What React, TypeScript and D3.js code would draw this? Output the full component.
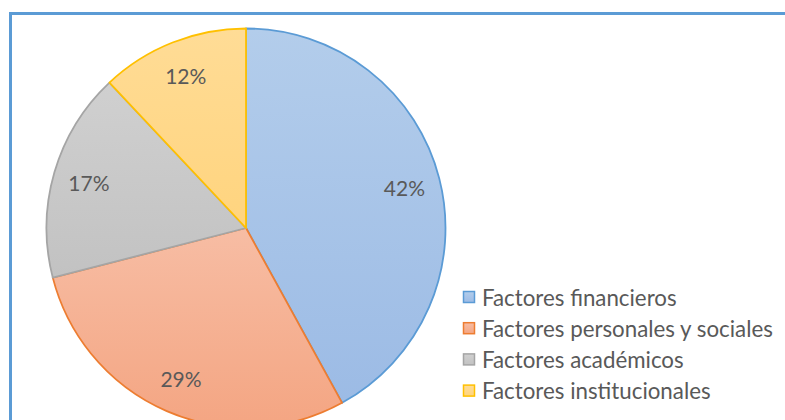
import React from "react";
import * as d3 from "d3";

const categories = [
  "Factores financieros",
  "Factores personales y sociales",
  "Factores académicos",
  "Factores institucionales",
];
const values = [42, 29, 17, 12];
const labels = ["42%", "29%", "17%", "12%"];

const fillTop = ["#B3CDEB", "#F7BDA4", "#D0D0D0", "#FFDC96"];
const fillBottom = ["#9CBBE5", "#F4A582", "#C2C2C2", "#FFD47E"];
const strokes = ["#5B9BD5", "#ED7D31", "#A5A5A5", "#FFC000"];

export default function App() {
  const W = 785;
  const H = 420;
  const cx = 246;
  const cy = 228;
  const R = 199.5;

  const pie = d3.pie<number>().sort(null).value((d) => d);
  const arcs = pie(values);
  const arc = d3.arc<d3.PieArcDatum<number>>().innerRadius(0).outerRadius(R);
  const labelArc = d3
    .arc<d3.PieArcDatum<number>>()
    .innerRadius(R * 0.82)
    .outerRadius(R * 0.82);

  const legendX = 463;
  const legendY0 = 297;
  const legendStep = 31.2;

  return (
    <svg
      width={W}
      height={H}
      style={{ position: "absolute", left: 0, top: 0 }}
      fontFamily="Lato, 'Open Sans', sans-serif"
    >
      <defs>
        {arcs.map((a, i) => (
          <linearGradient key={i} id={`g${i}`} x1="0" y1="0" x2="0" y2="1">
            <stop offset="0" stopColor={fillTop[i]} />
            <stop offset="1" stopColor={fillBottom[i]} />
          </linearGradient>
        ))}
      </defs>
      <rect x={0} y={0} width={W} height={H} fill="#fff" />
      <rect
        x={10.5}
        y={13.5}
        width={W + 20}
        height={H + 20}
        fill="none"
        stroke="#5B9BD5"
        strokeWidth={3}
      />
      <g transform={`translate(${cx},${cy})`}>
        {arcs.map((a, i) => (
          <path
            key={i}
            d={arc(a) || ""}
            fill={`url(#g${i})`}
            stroke={strokes[i]}
            strokeWidth={1.8}
            strokeLinejoin="round"
          />
        ))}
        {arcs.map((a, i) => {
          const [x, y] = labelArc.centroid(a);
          return (
            <text
              key={i}
              x={x}
              y={y}
              textAnchor="middle"
              dominantBaseline="central"
              fontSize={21}
              fill="#595959"
            >
              {labels[i]}
            </text>
          );
        })}
      </g>
      {categories.map((c, i) => (
        <g key={c} transform={`translate(${legendX},${legendY0 + i * legendStep})`}>
          <rect
            x={0.5}
            y={-5.5}
            width={11}
            height={11}
            fill={`url(#g${i})`}
            stroke={strokes[i]}
            strokeWidth={1.5}
          />
          <text
            x={19}
            y={0}
            dominantBaseline="central"
            fontSize={22.3}
            fill="#595959"
          >
            {c}
          </text>
        </g>
      ))}
    </svg>
  );
}
